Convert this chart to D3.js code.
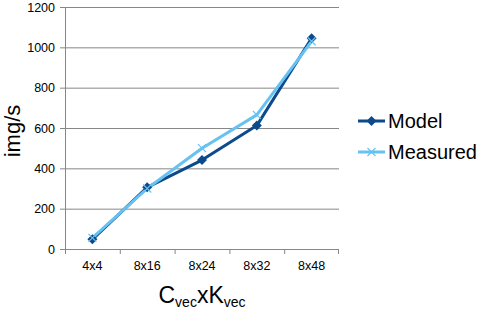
<!DOCTYPE html>
<html>
<head>
<meta charset="utf-8">
<script src="https://cdn.jsdelivr.net/npm/d3@7"></script>
<style>
  body { margin: 0; background: #fff; }
  svg { font-family: 'Liberation Sans', Arial, sans-serif; }
</style>
</head>
<body>
<svg id="chart" width="490" height="311"></svg>
<script>
const categories = ['4x4', '8x16', '8x24', '8x32', '8x48']
const modelValues = [48, 306, 441, 612, 1045]
const measuredValues = [55, 300, 500, 665, 1030]
const yTicks = [0, 200, 400, 600, 800, 1000, 1200]

const svg = d3.select('#chart')
const margin = { top: 7, left: 65, right: 151, bottom: 62 }
const width = 490 - margin.left - margin.right,
  height = 311 - margin.top - margin.bottom

const x = d3.scaleBand().domain(categories).range([0, width])
const y = d3.scaleLinear().domain([0, 1200]).range([height, 0])

const g = svg.append('g')
  .attr('transform', 'translate(' + margin.left + ',' + margin.top + ')')

// gridlines
g.selectAll('.grid')
  .data(yTicks)
  .enter().append('line')
  .attr('x1', -5)
  .attr('x2', width)
  .attr('y1', d => y(d) + 0.5)
  .attr('y2', d => y(d) + 0.5)
  .attr('stroke', '#878787')
  .attr('stroke-width', 1)

// y axis
const yAxis = g.append('g')
  .call(d3.axisLeft(y).tickValues(yTicks).tickFormat(d3.format('d')).tickSize(0).tickPadding(10))
yAxis.select('.domain').remove()
yAxis.selectAll('text').attr('font-size', 12.5).attr('fill', '#000')
  .attr('font-family', 'Liberation Sans, Arial, sans-serif')

g.append('line')
  .attr('x1', 0.5).attr('x2', 0.5)
  .attr('y1', 0).attr('y2', height)
  .attr('stroke', '#878787')

// x axis
const xAxis = g.append('g')
  .attr('transform', 'translate(0,' + height + ')')
xAxis.append('line')
  .attr('x1', 0).attr('x2', width)
  .attr('y1', 0.5).attr('y2', 0.5)
  .attr('stroke', '#878787')
xAxis.selectAll('.tk')
  .data(categories.concat(['end']))
  .enter().append('line')
  .attr('x1', (d, i) => i < categories.length ? x(d) + 0.5 : width - 0.5)
  .attr('x2', (d, i) => i < categories.length ? x(d) + 0.5 : width - 0.5)
  .attr('y1', 0).attr('y2', 5)
  .attr('stroke', '#878787')
xAxis.selectAll('.lbl')
  .data(categories)
  .enter().append('text')
  .attr('x', d => x(d) + x.bandwidth() / 2)
  .attr('y', 21)
  .attr('text-anchor', 'middle')
  .attr('font-size', 12.5)
  .text(d => d)

// axis titles
const xt = g.append('text')
  .attr('x', width / 2)
  .attr('y', height + 54)
  .attr('text-anchor', 'middle')
  .attr('font-size', 23)
xt.append('tspan').text('C')
xt.append('tspan').attr('font-size', 14).attr('dy', 4).text('vec')
xt.append('tspan').attr('dy', -4).text('xK')
xt.append('tspan').attr('font-size', 14).attr('dy', 4).text('vec')

svg.append('text')
  .attr('transform', 'translate(20,' + (margin.top + height / 2 + 3) + ')rotate(-90)')
  .attr('text-anchor', 'middle')
  .attr('font-size', 22)
  .text('img/s')

const series = [
  { name: 'Model', values: modelValues, color: '#0D4A8C', marker: 'diamond' },
  { name: 'Measured', values: measuredValues, color: '#66C2F2', marker: 'x' }
]

const line = d3.line()
  .x((d, i) => x(categories[i]) + x.bandwidth() / 2)
  .y(d => y(d))

function drawMarker (sel, type, color) {
  if (type === 'diamond') {
    sel.append('path')
      .attr('d', 'M0,-5L5,0L0,5L-5,0Z')
      .attr('fill', color)
  } else {
    sel.append('path')
      .attr('d', 'M-4,-4L4,4M-4,4L4,-4')
      .attr('stroke', color)
      .attr('stroke-width', 1.2)
      .attr('fill', 'none')
  }
}

// draw lines first, then markers on top
series.forEach(s => {
  g.append('path')
    .datum(s.values)
    .attr('fill', 'none')
    .attr('stroke', s.color)
    .attr('stroke-width', 3)
    .attr('stroke-linejoin', 'round')
    .attr('d', line)
})
series.forEach(s => {
  s.values.forEach((v, i) => {
    const m = g.append('g')
      .attr('transform', 'translate(' + (x(categories[i]) + x.bandwidth() / 2) + ',' + y(v) + ')')
    drawMarker(m, s.marker, s.color)
  })
})

// legend
const legend = svg.append('g').attr('transform', 'translate(358,121)')
series.forEach((s, i) => {
  const row = legend.append('g').attr('transform', 'translate(0,' + (i * 31) + ')')
  row.append('line')
    .attr('x1', 0).attr('x2', 27)
    .attr('stroke', s.color)
    .attr('stroke-width', 3)
  const m = row.append('g').attr('transform', 'translate(13.5,0)')
  drawMarker(m, s.marker, s.color)
  row.append('text')
    .attr('x', 30)
    .attr('y', 7)
    .attr('font-size', 20)
    .text(s.name)
})
</script>
</body>
</html>
